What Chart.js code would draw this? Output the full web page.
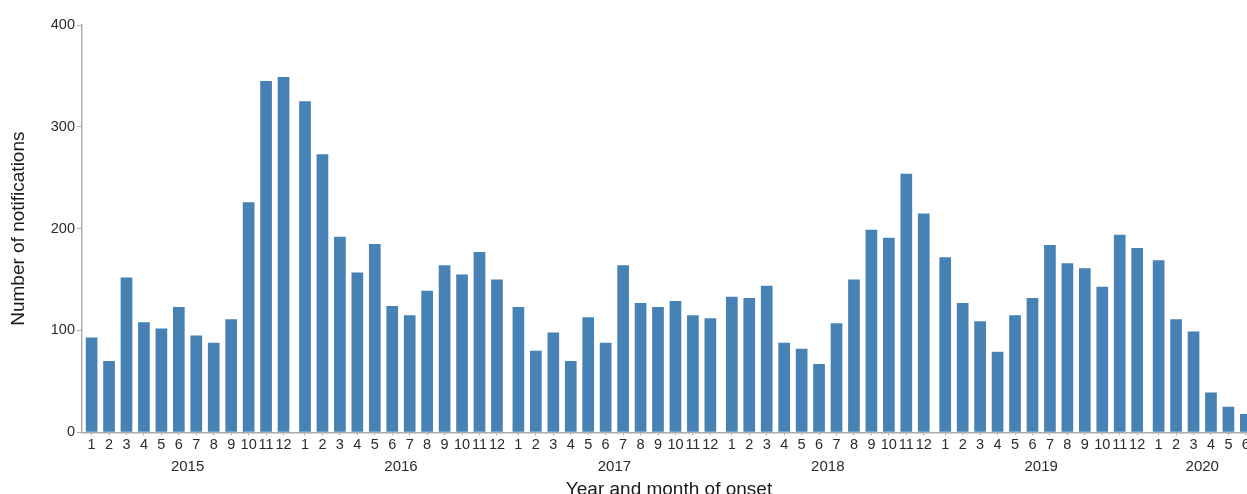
<!DOCTYPE html>
<html>
<head>
<meta charset="utf-8">
<script src="https://cdn.jsdelivr.net/npm/chart.js@4"></script>
<style>
  html, body { margin: 0; padding: 0; background: #fff; overflow: hidden; }
  #wrap { position: relative; width: 1256px; height: 503px; }
</style>
</head>
<body>
<div id="wrap"><canvas id="notifChart"></canvas></div>
<script>
const YEARS = ["2015", "2016", "2017", "2018", "2019", "2020"];
const MONTHS = ["1", "2", "3", "4", "5", "6", "7", "8", "9", "10", "11", "12"];

const counts2015 = [93, 70, 152, 108, 102, 123, 95, 88, 111, 226, 345, 349];
const counts2016 = [325, 273, 192, 157, 185, 124, 115, 139, 164, 155, 177, 150];
const counts2017 = [123, 80, 98, 70, 113, 88, 164, 127, 123, 129, 115, 112];
const counts2018 = [133, 132, 144, 88, 82, 67, 107, 150, 199, 191, 254, 215];
const counts2019 = [172, 127, 109, 79, 115, 132, 184, 166, 161, 143, 194, 181];
const counts2020 = [169, 111, 99, 39, 25, 18];

const countsByYear = [counts2015, counts2016, counts2017, counts2018, counts2019, counts2020];

// small extra space between years
const YEAR_GAP = 0.23;
const X_MIN = -0.55;
const X_MAX = 66.73;

const BAR_COLOR = "#4682b4";
const AXIS_COLOR = "#ababab";
const TEXT_COLOR = "#2b2b2b";
const FONT = "'Liberation Sans', Arial, sans-serif";

let points = [];
let monthTicks = [];
let monthLabels = [];
let yearTicks = [];

countsByYear.forEach((counts, yi) => {
  let start = yi * (12 + YEAR_GAP);
  counts.forEach((value, mi) => {
    points.push({ x: start + mi, y: value });
    monthTicks.push(start + mi);
    monthLabels.push(MONTHS[mi]);
  });
  yearTicks.push(start + (counts.length - 1) / 2);
});

function createChart() {
  let ctx = document.getElementById("notifChart");
  new Chart(ctx, {
    type: "bar",
    data: {
      datasets: [
        {
          label: "Notifications",
          data: points,
          backgroundColor: BAR_COLOR,
          borderWidth: 0,
          barPercentage: 0.67,
          categoryPercentage: 1
        }
      ]
    },
    options: {
      responsive: true,
      maintainAspectRatio: false,
      animation: false,
      layout: { padding: { top: 25, left: 0, right: 0, bottom: 0 } },
      plugins: {
        legend: { display: false },
        tooltip: { enabled: false }
      },
      scales: {
        x: {
          type: "linear",
          min: X_MIN,
          max: X_MAX,
          offset: false,
          weight: 0,
          afterBuildTicks: axis => {
            axis.ticks = monthTicks.map(v => ({ value: v }));
          },
          ticks: {
            autoSkip: false,
            maxRotation: 0,
            padding: 0.5,
            color: TEXT_COLOR,
            font: { family: FONT, size: 14.5 },
            callback: (value, index) => monthLabels[index]
          },
          grid: {
            display: true,
            drawOnChartArea: false,
            drawTicks: true,
            tickLength: 3,
            offset: false,
            color: AXIS_COLOR
          },
          border: { color: AXIS_COLOR, width: 1.5 }
        },
        x2: {
          type: "linear",
          position: "bottom",
          min: X_MIN,
          max: X_MAX,
          offset: false,
          weight: 1,
          afterBuildTicks: axis => {
            axis.ticks = yearTicks.map(v => ({ value: v }));
          },
          ticks: {
            autoSkip: false,
            maxRotation: 0,
            padding: 4.5,
            color: TEXT_COLOR,
            font: { family: FONT, size: 15 },
            callback: (value, index) => YEARS[index]
          },
          grid: { display: false, drawTicks: false },
          border: { display: false },
          title: {
            display: true,
            text: "Year and month of onset",
            color: "#1a1a1a",
            font: { family: FONT, size: 19 },
            padding: { top: -2.5, bottom: 2 }
          }
        },
        y: {
          min: 0,
          max: 400,
          ticks: {
            stepSize: 100,
            padding: 2,
            color: TEXT_COLOR,
            font: { family: FONT, size: 14.5 }
          },
          grid: {
            display: true,
            drawOnChartArea: false,
            drawTicks: true,
            tickLength: 5,
            color: AXIS_COLOR
          },
          border: { color: AXIS_COLOR, width: 1.5 },
          title: {
            display: true,
            text: "Number of notifications",
            color: "#1a1a1a",
            font: { family: FONT, size: 19 },
            padding: { top: 7, bottom: 19 }
          }
        }
      }
    }
  });
}

createChart();
</script>
</body>
</html>
